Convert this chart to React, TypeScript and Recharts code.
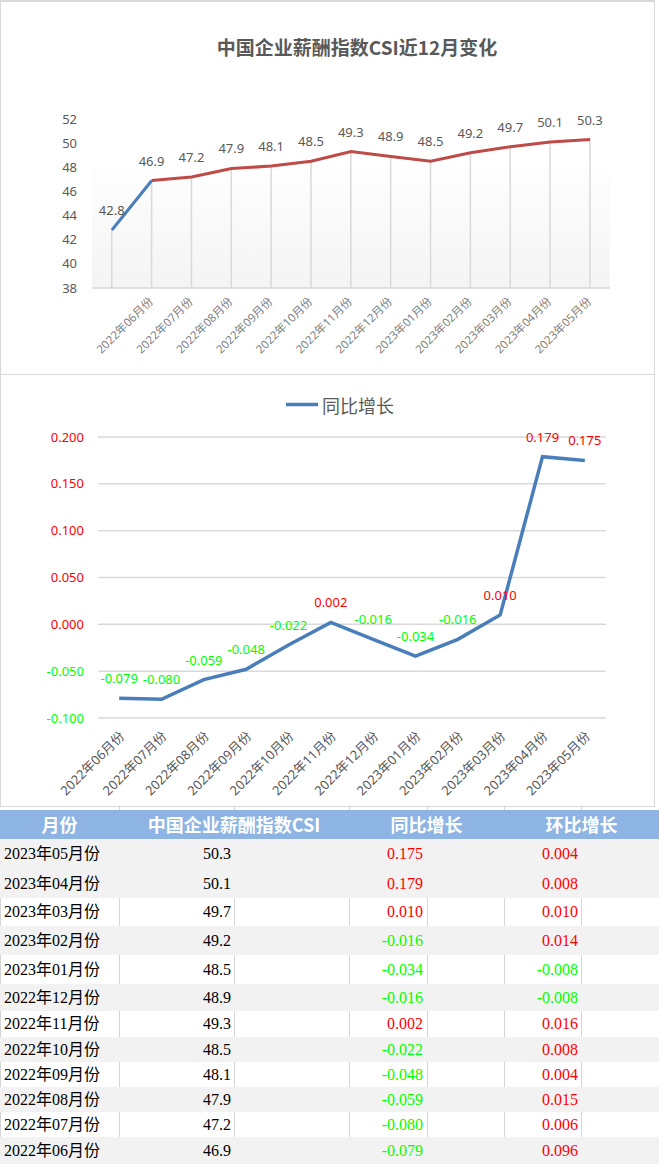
import React from "react";
import { ComposedChart, Line, Bar, XAxis, YAxis, CartesianGrid, LabelList, ReferenceArea } from "recharts";

// ---------- data ----------
const csiCategories = ["", "2022年06月份", "2022年07月份", "2022年08月份", "2022年09月份", "2022年10月份", "2022年11月份", "2022年12月份", "2023年01月份", "2023年02月份", "2023年03月份", "2023年04月份", "2023年05月份"];
const csiValues = [42.8, 46.9, 47.2, 47.9, 48.1, 48.5, 49.3, 48.9, 48.5, 49.2, 49.7, 50.1, 50.3];
const csiTicks = [38, 40, 42, 44, 46, 48, 50, 52];

const yoyCategories = ["2022年06月份", "2022年07月份", "2022年08月份", "2022年09月份", "2022年10月份", "2022年11月份", "2022年12月份", "2023年01月份", "2023年02月份", "2023年03月份", "2023年04月份", "2023年05月份"];
const yoyValues = [-0.079, -0.08, -0.059, -0.048, -0.022, 0.002, -0.016, -0.034, -0.016, 0.01, 0.179, 0.175];
const yoyTicks = [-0.1, -0.05, 0, 0.05, 0.1, 0.15, 0.2];

const tableHeaders = ["月份", "中国企业薪酬指数CSI", "同比增长", "环比增长"];
const tableMonths = ["2023年05月份", "2023年04月份", "2023年03月份", "2023年02月份", "2023年01月份", "2022年12月份", "2022年11月份", "2022年10月份", "2022年09月份", "2022年08月份", "2022年07月份", "2022年06月份"];
const tableCsi = [50.3, 50.1, 49.7, 49.2, 48.5, 48.9, 49.3, 48.5, 48.1, 47.9, 47.2, 46.9];
const tableYoy = [0.175, 0.179, 0.01, -0.016, -0.034, -0.016, 0.002, -0.022, -0.048, -0.059, -0.08, -0.079];
const tableMom = [0.004, 0.008, 0.01, 0.014, -0.008, -0.008, 0.016, 0.008, 0.004, 0.015, 0.006, 0.096];

// ---------- styles ----------
const FONT = '"Noto Sans", "Noto Sans CJK SC", sans-serif';
const CJK_FONT = '"Noto Sans CJK SC", "Noto Sans", sans-serif';
const SERIF = '"Liberation Serif", "Noto Sans CJK SC", serif';
const RED = "#ff0000";
const GREEN = "#00ff00";
const GRAY_TEXT = "#595959";
const BORDER = "#d9d9d9";

const csiData = csiCategories.map((m, i) => ({
  month: m,
  value: csiValues[i],
  first: i <= 1 ? csiValues[i] : null,
  rest: i >= 1 ? csiValues[i] : null,
}));

const yoyData = yoyCategories.map((m, i) => ({ month: m, yoy: yoyValues[i] }));

const makeAngledTick = (fontSize: number, fill: string, dx: number, dy: number) => (props: any) => {
  const { x, y, payload } = props;
  if (!payload || !payload.value) return <g />;
  return (
    <g transform={`translate(${x + dx},${y + dy})`}>
      <text textAnchor="end" fontSize={fontSize} fill={fill} fontFamily={FONT} transform="rotate(-45)">
        {payload.value}
      </text>
    </g>
  );
};

const TopTick = makeAngledTick(11.5, "#7f7f7f", 2, 14);
const MidTick = makeAngledTick(13, GRAY_TEXT, 6, 19);

const YoyYTick = (props: any) => {
  const { x, y, payload } = props;
  const v = Number(payload.value);
  return (
    <text x={x} y={y} dy="0.355em" textAnchor="end" fontSize={13} fontFamily={FONT} fill={v >= 0 ? RED : GREEN}>
      {v.toFixed(3)}
    </text>
  );
};

const YoyLabel = (props: any) => {
  const vb = props.viewBox || {};
  const x = props.x ?? vb.x;
  const y = props.y ?? vb.y;
  const v = Number(props.value);
  return (
    <text x={x} y={y - 15} textAnchor="middle" fontSize={13} fontFamily={FONT} fill={v >= 0 ? RED : GREEN}>
      {v.toFixed(3)}
    </text>
  );
};

// table layout
const colEdges = [0, 119, 234, 349, 427, 504, 581, 659];
const rowHeights = [29.5, 29.5, 28, 29, 29, 27, 26, 25, 25, 25, 25, 27];
const HEADER_TOP = 810;
const HEADER_H = 29;

function Table() {
  const headerSpans = [
    [0, 119],
    [119, 349],
    [349, 504],
    [504, 659],
  ];
  let top = HEADER_TOP + HEADER_H;
  const rows = tableMonths.map((m, i) => {
    const h = rowHeights[i];
    const t = top;
    top += h;
    const gray = i === 0 || i % 2 === 1;
    const cellText: React.CSSProperties = {
      position: "absolute",
      top: 0,
      height: h,
      lineHeight: `${h}px`,
      fontFamily: SERIF,
      fontSize: 16,
      whiteSpace: "nowrap",
    };
    return (
      <div key={m} style={{ position: "absolute", left: 0, top: t, width: 659, height: h, background: gray ? "#f2f2f2" : "#ffffff" }}>
        {!gray &&
          colEdges.slice(0, 7).map((x) => (
            <div key={x} style={{ position: "absolute", left: x, top: 0, width: 1, height: h, background: "#d4d4d4" }} />
          ))}
        <div style={{ ...cellText, left: 4, color: "#000" }}>{m}</div>
        <div style={{ ...cellText, left: 119, width: 234 - 119 - 3, textAlign: "right", color: "#000" }}>{tableCsi[i].toFixed(1)}</div>
        <div style={{ ...cellText, left: 349, width: 427 - 349 - 4, textAlign: "right", color: tableYoy[i] >= 0 ? RED : GREEN }}>
          {tableYoy[i].toFixed(3)}
        </div>
        <div style={{ ...cellText, left: 504, width: 581 - 504 - 3, textAlign: "right", color: tableMom[i] >= 0 ? RED : GREEN }}>
          {tableMom[i].toFixed(3)}
        </div>
      </div>
    );
  });
  return (
    <>
      {colEdges.slice(1, 7).map((x) => (
        <div key={"g" + x} style={{ position: "absolute", left: x, top: 806, width: 1, height: 4, background: "#d4d4d4" }} />
      ))}
      <div style={{ position: "absolute", left: 0, top: HEADER_TOP, width: 659, height: HEADER_H, background: "#8db4e2" }}>
        {tableHeaders.map((h, i) => (
          <div
            key={h}
            style={{
              position: "absolute",
              left: headerSpans[i][0],
              width: headerSpans[i][1] - headerSpans[i][0],
              top: 0,
              height: HEADER_H,
              lineHeight: `${HEADER_H}px`,
              textAlign: "center",
              color: "#ffffff",
              fontWeight: 700,
              fontSize: 18,
              fontFamily: CJK_FONT,
              whiteSpace: "nowrap",
            }}
          >
            {h}
          </div>
        ))}
      </div>
      {rows}
    </>
  );
}

export default function App() {
  return (
    <div style={{ position: "absolute", left: 0, top: 0, width: 659, height: 1164, background: "#fff", overflow: "hidden" }}>
      {/* panel borders */}
      <div style={{ position: "absolute", left: 0, top: 0, width: 655, height: 375, boxSizing: "border-box", border: `1px solid ${BORDER}`, borderTopWidth: 2 }} />
      <div style={{ position: "absolute", left: 0, top: 374, width: 655, height: 433, boxSizing: "border-box", border: `1px solid ${BORDER}` }} />

      {/* top title */}
      <div
        style={{
          position: "absolute",
          left: 0,
          width: 714,
          top: 37,
          height: 20,
          lineHeight: "20px",
          textAlign: "center",
          fontFamily: CJK_FONT,
          fontWeight: 700,
          fontSize: 19,
          color: GRAY_TEXT,
          whiteSpace: "nowrap",
        }}
      >
        中国企业薪酬指数CSI近12月变化
      </div>

      {/* top chart */}
      <div style={{ position: "absolute", left: 0, top: 0 }}>
        <ComposedChart width={659} height={374} data={csiData} margin={{ top: 119, right: 49, bottom: 0, left: 0 }}>
          <defs>
            <linearGradient id="plotGrad" x1="0" y1="0" x2="0" y2="1">
              <stop offset="0%" stopColor="#fefefe" />
              <stop offset="100%" stopColor="#f4f4f4" />
            </linearGradient>
          </defs>
          <XAxis
            dataKey="month"
            interval={0}
            height={86}
            tickLine={false}
            tickSize={0}
            tickMargin={0}
            axisLine={{ stroke: BORDER, strokeWidth: 1.5 }}
            tick={TopTick}
          />
          <YAxis
            width={92}
            domain={[38, 52]}
            ticks={csiTicks}
            allowDataOverflow
            axisLine={false}
            tickLine={false}
            tickSize={0}
            tickMargin={15}
            tick={{ fontSize: 13, fill: GRAY_TEXT, fontFamily: FONT }}
          />
          <ReferenceArea y1={38} y2={48} fill="url(#plotGrad)" fillOpacity={1} stroke="none" />
          <Bar dataKey="value" barSize={1.5} fill={BORDER} isAnimationActive={false}>
            <LabelList dataKey="value" position="top" offset={15} fontSize={13} fill={GRAY_TEXT} fontFamily={FONT} />
          </Bar>
          <Line dataKey="first" stroke="#4a7ebb" strokeWidth={3} dot={false} activeDot={false} isAnimationActive={false} connectNulls={false} />
          <Line dataKey="rest" stroke="#be4b48" strokeWidth={3} dot={false} activeDot={false} isAnimationActive={false} connectNulls={false} />
        </ComposedChart>
      </div>

      {/* middle legend */}
      <svg style={{ position: "absolute", left: 286, top: 402 }} width={32} height={5}>
        <line x1={0} y1={2.5} x2={32} y2={2.5} stroke="#4a7ebb" strokeWidth={3.5} strokeLinecap="round" />
      </svg>
      <div
        style={{
          position: "absolute",
          left: 322,
          top: 395,
          height: 20,
          lineHeight: "20px",
          fontFamily: CJK_FONT,
          fontSize: 18,
          color: GRAY_TEXT,
          whiteSpace: "nowrap",
        }}
      >
        同比增长
      </div>

      {/* middle chart */}
      <div style={{ position: "absolute", left: 0, top: 374 }}>
        <ComposedChart width={659} height={434} data={yoyData} margin={{ top: 63, right: 53, bottom: 0, left: 0 }}>
          <CartesianGrid vertical={false} stroke={BORDER} strokeWidth={1.5} />
          <XAxis dataKey="month" scale="band" interval={0} height={90} tickLine={false} tickSize={0} tickMargin={0} axisLine={false} tick={MidTick} />
          <YAxis
            width={98}
            domain={[-0.1, 0.2]}
            ticks={yoyTicks}
            allowDataOverflow
            axisLine={false}
            tickLine={false}
            tickSize={0}
            tickMargin={14}
            tick={YoyYTick}
          />
          <Line dataKey="yoy" stroke="#4a7ebb" strokeWidth={3.5} dot={false} activeDot={false} isAnimationActive={false}>
            <LabelList dataKey="yoy" content={YoyLabel} />
          </Line>
        </ComposedChart>
      </div>

      <Table />
    </div>
  );
}
